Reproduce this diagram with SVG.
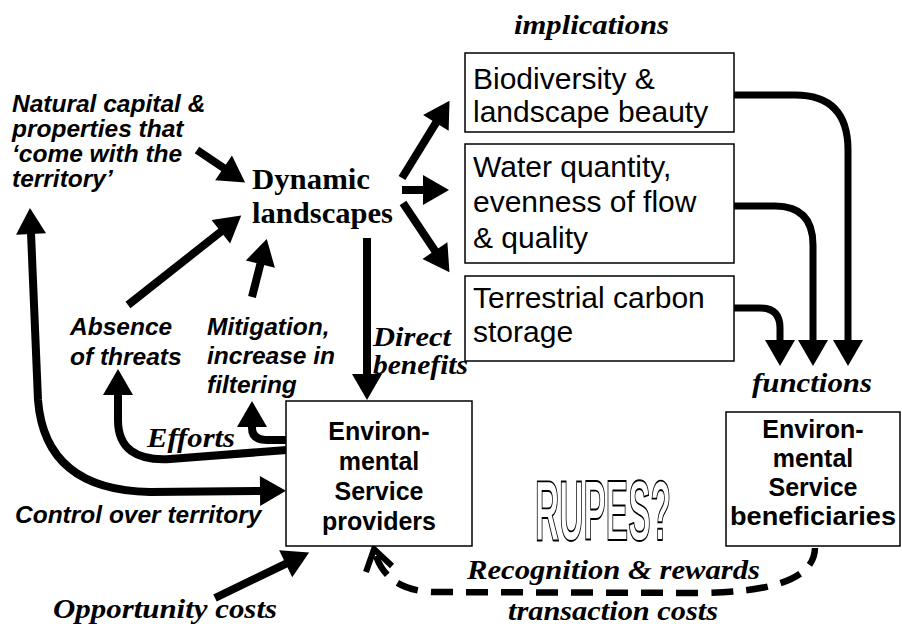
<svg xmlns="http://www.w3.org/2000/svg" width="902" height="628" viewBox="0 0 902 628">
<style>
.box{fill:#fff;stroke:#000;stroke-width:1.5}
.t{font-family:"Liberation Sans",Arial,sans-serif;font-size:30px;fill:#000}
.tb{font-family:"Liberation Sans",Arial,sans-serif;font-size:25px;font-weight:bold;fill:#000;text-anchor:middle}
.lbl{font-family:"Liberation Sans",Arial,sans-serif;font-size:24.5px;font-weight:bold;font-style:italic;fill:#000}
.ser{font-family:"Liberation Serif","Times New Roman",serif;font-size:28px;font-weight:bold;font-style:italic;fill:#000}
.dyn{font-family:"Liberation Serif","Times New Roman",serif;font-size:30px;font-weight:bold;fill:#000}
.ar{fill:none;stroke:#000;stroke-width:8}
.arc{fill:none;stroke:#000;stroke-width:7}
</style>
<defs>
<marker id="h" markerUnits="userSpaceOnUse" markerWidth="30" markerHeight="32" refX="1" refY="15" orient="auto-start-reverse" viewBox="0 0 30 30" overflow="visible">
<path d="M0,0 L26,15 L0,30 z" fill="#000"/>
</marker>
</defs>

<g id="connectors">
<line class="ar" x1="197" y1="150" x2="224.4" y2="168.5" marker-end="url(#h)"/>
<line class="ar" x1="128" y1="305" x2="221.6" y2="231.1" marker-end="url(#h)"/>
<line class="ar" x1="252" y1="297" x2="260.6" y2="263.2" marker-end="url(#h)"/>
<line class="ar" x1="367" y1="238" x2="367" y2="375" marker-end="url(#h)"/>
<line class="ar" x1="402" y1="178" x2="436.4" y2="122.1" marker-end="url(#h)"/>
<line class="ar" x1="402" y1="190" x2="424" y2="190" marker-end="url(#h)"/>
<line class="ar" x1="403" y1="203" x2="435.5" y2="251.4" marker-end="url(#h)"/>
<path class="arc" d="M734,95 H795 Q848,95 848,150 V341" marker-end="url(#h)"/>
<path class="arc" d="M734,206 H775 Q813,206 813,245 V341" marker-end="url(#h)"/>
<path class="arc" d="M734,308 H760 Q780,308 780,328 V341" marker-end="url(#h)"/>
<path class="ar" d="M287,450 L170,459 Q118,462 118,420 V394" marker-end="url(#h)"/>
<path class="ar" d="M287,440 H268 Q252,440 252,428 V426" marker-end="url(#h)"/>
<path class="ar" d="M31,233 L38,400 Q45,490 150,492 L261,491" marker-start="url(#h)" marker-end="url(#h)"/>
<line class="ar" x1="215" y1="598" x2="286.6" y2="563.3" marker-end="url(#h)"/>
<path fill="none" stroke="#000" stroke-width="6.5" stroke-dasharray="22 13" d="M376,556 Q388,590 432,592 L700,593 Q814,592 815,548"/>
<polyline fill="none" stroke="#000" stroke-width="6" points="366,572 374,549 392,566"/>
</g>

<g id="n-implications"><text class="ser" x="514" y="34" textLength="155" lengthAdjust="spacingAndGlyphs">implications</text></g>

<g id="n-biodiversity">
<rect class="box" x="465" y="53" width="269" height="79"/>
<text class="t" x="473" y="89">Biodiversity &amp;</text>
<text class="t" x="473" y="122">landscape beauty</text>
</g>
<g id="n-water">
<rect class="box" x="465" y="144" width="269" height="119"/>
<text class="t" x="473" y="177">Water quantity,</text>
<text class="t" x="473" y="212">evenness of flow</text>
<text class="t" x="473" y="248">&amp; quality</text>
</g>
<g id="n-carbon">
<rect class="box" x="465" y="276" width="269" height="85"/>
<text class="t" x="473" y="308">Terrestrial carbon</text>
<text class="t" x="473" y="342">storage</text>
</g>

<g id="n-natural">
<text class="lbl" x="12" y="112">Natural capital &amp;</text>
<text class="lbl" x="12" y="137">properties that</text>
<text class="lbl" x="12" y="162">‘come with the</text>
<text class="lbl" x="12" y="187">territory’</text>
</g>

<g id="n-dynamic">
<text class="dyn" x="252" y="189" textLength="118" lengthAdjust="spacingAndGlyphs">Dynamic</text>
<text class="dyn" x="252" y="223" textLength="141" lengthAdjust="spacingAndGlyphs">landscapes</text>
</g>

<g id="n-absence">
<text class="lbl" x="70" y="335">Absence</text>
<text class="lbl" x="70" y="365">of threats</text>
</g>
<g id="n-mitigation">
<text class="lbl" x="207" y="335">Mitigation,</text>
<text class="lbl" x="207" y="364">increase in</text>
<text class="lbl" x="207" y="393">filtering</text>
</g>

<g id="n-direct">
<text class="ser" x="373" y="346" textLength="78" lengthAdjust="spacingAndGlyphs">Direct</text>
<text class="ser" x="373" y="374" textLength="95" lengthAdjust="spacingAndGlyphs">benefits</text>
</g>

<g id="n-efforts"><text class="ser" x="147" y="447" textLength="88" lengthAdjust="spacingAndGlyphs">Efforts</text></g>

<g id="n-functions"><text class="ser" x="752" y="392" textLength="120" lengthAdjust="spacingAndGlyphs">functions</text></g>

<g id="n-providers">
<rect class="box" x="286" y="401" width="186" height="145"/>
<text class="tb" x="379" y="440">Environ-</text>
<text class="tb" x="379" y="470">mental</text>
<text class="tb" x="379" y="500">Service</text>
<text class="tb" x="379" y="530">providers</text>
</g>

<g id="n-beneficiaries">
<rect class="box" x="726" y="412" width="174" height="134"/>
<text class="tb" x="813" y="438">Environ-</text>
<text class="tb" x="813" y="467">mental</text>
<text class="tb" x="813" y="496">Service</text>
<text class="tb" x="813" y="525" textLength="166" lengthAdjust="spacingAndGlyphs">beneficiaries</text>
</g>

<g id="n-control"><text class="lbl" x="15" y="523">Control over territory</text></g>

<g id="n-rupes">
<text transform="translate(535,540) scale(0.39,1)" font-family="'Liberation Sans',Arial,sans-serif" font-weight="bold" font-size="86" fill="#fff" stroke="#000" stroke-width="1.4" vector-effect="non-scaling-stroke">RUPES?</text>
</g>

<g id="n-recognition"><text class="ser" x="467" y="579" textLength="293" lengthAdjust="spacingAndGlyphs">Recognition &amp; rewards</text></g>
<g id="n-transaction"><text class="ser" x="508" y="620" textLength="210" lengthAdjust="spacingAndGlyphs">transaction costs</text></g>
<g id="n-opportunity"><text class="ser" x="53" y="618" textLength="224" lengthAdjust="spacingAndGlyphs">Opportunity costs</text></g>
</svg>
